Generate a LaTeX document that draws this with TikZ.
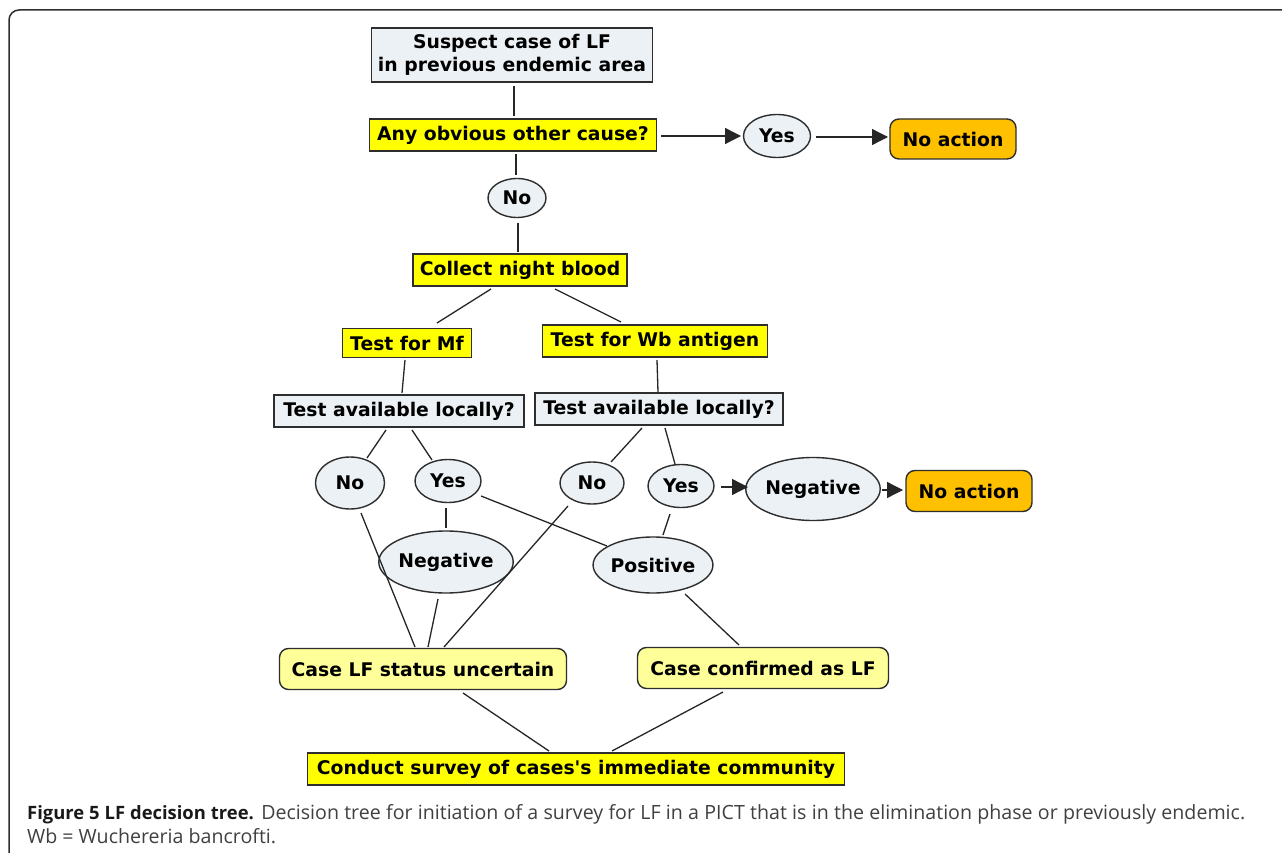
\documentclass[tikz,border=0pt]{standalone}
\usepackage{fontspec}
\usetikzlibrary{arrows.meta,shapes.geometric}
\newfontfamily\boxfont{DejaVu Sans}
\newfontfamily\capfont{Open Sans}
\definecolor{boxgray}{HTML}{EBF1F4}
\definecolor{yel}{HTML}{FFFF00}
\definecolor{orng}{HTML}{FFC000}
\definecolor{paleyel}{HTML}{FFFF99}
\definecolor{edge}{HTML}{2E2E2E}
\definecolor{capgray}{HTML}{404040}
\begin{document}
\begin{tikzpicture}[x=1pt,y=-1pt,
  base/.style={draw=edge, line width=1.4pt, inner sep=0pt, align=center, text=black,
    font=\boxfont\bfseries\fontsize{18.8}{23}\selectfont},
  graybox/.style={base, rectangle, fill=boxgray},
  yelbox/.style={base, rectangle, fill=yel},
  oval/.style={base, ellipse, fill=boxgray},
  actbox/.style={base, rectangle, rounded corners=9pt, fill=orng},
  resbox/.style={base, rectangle, rounded corners=9pt, fill=paleyel},
  link/.style={draw=black!85, line width=1.3pt},
  arr/.style={link, -{Triangle[length=16pt,width=16pt]}},
  captext/.style={anchor=base west, inner sep=0pt, text=capgray, font=\capfont\fontsize{19.6}{24}\selectfont}
]
\useasboundingbox (0,0) rectangle (1282,853);
\fill[white] (0,0) rectangle (1282,853);
\draw[edge, line width=1.5pt, rounded corners=10pt] (9,860) -- (9,10) -- (1290,10);

% nodes
\node[graybox, minimum width=281, minimum height=54] (susp) at (512,55) {Suspect case of LF\\in previous endemic area};
\node[yelbox, minimum width=287, minimum height=32] (any) at (513,135) {Any obvious other cause?};
\node[oval, minimum width=67, minimum height=43] (yes1) at (777,136) {Yes};
\node[actbox, minimum width=126, minimum height=40] (noact1) at (953,139) {No action};
\node[oval, minimum width=58, minimum height=39] (no1) at (517,198) {No};
\node[yelbox, minimum width=214, minimum height=32] (collect) at (520,270) {Collect night blood};
\node[yelbox, minimum width=129, minimum height=29] (mf) at (407,343) {Test for Mf};
\node[yelbox, minimum width=225, minimum height=32] (wb) at (655,341) {Test for Wb antigen};
\node[graybox, minimum width=250, minimum height=32] (tal1) at (399,411) {Test available locally?};
\node[graybox, minimum width=248, minimum height=32] (tal2) at (659,409) {Test available locally?};
\node[oval, minimum width=69, minimum height=52] (no2) at (350,483) {No};
\node[oval, minimum width=66, minimum height=43] (yes2) at (448,481) {Yes};
\node[oval, minimum width=64, minimum height=42] (no3) at (592,483) {No};
\node[oval, minimum width=66, minimum height=43] (yes3) at (681,486) {Yes};
\node[oval, minimum width=124, minimum height=63] (neg2) at (813,489) {Negative};
\node[actbox, minimum width=126, minimum height=41] (noact2) at (969,491) {No action};
\node[oval, minimum width=124, minimum height=62] (neg1) at (446,562) {Negative};
\node[oval, minimum width=114, minimum height=56] (pos) at (653,565) {Positive};
\node[resbox, minimum width=287, minimum height=41] (caseU) at (423,669) {Case LF status uncertain};
\node[resbox, minimum width=251, minimum height=41] (caseC) at (763,668) {Case confirmed as LF};
\node[yelbox, minimum width=537, minimum height=32] (conduct) at (576,769) {Conduct survey of cases's immediate community};

% connectors
\draw[link] ([shift={(2,31)}]susp.center) -- ([shift={(1,-19)}]any.center);
\draw[arr] ([shift={(148,1)}]any.center) -- ([shift={(-36,0)}]yes1.center);
\draw[arr] ([shift={(39,1)}]yes1.center) -- ([shift={(-65,-2)}]noact1.center);
\draw[link] ([shift={(3,19)}]any.center) -- ([shift={(-1,-23)}]no1.center);
\draw[link] ([shift={(1,25)}]no1.center) -- ([shift={(-2,-18)}]collect.center);
\draw[link] ([shift={(-29,19)}]collect.center) -- ([shift={(30,-20)}]mf.center);
\draw[link] ([shift={(35,19)}]collect.center) -- ([shift={(-34,-19)}]wb.center);
\draw[link] ([shift={(-2,17)}]mf.center) -- ([shift={(3,-18)}]tal1.center);
\draw[link] ([shift={(2,19)}]wb.center) -- ([shift={(-1,-17)}]tal2.center);
\draw[link] ([shift={(-13,19)}]tal1.center) -- ([shift={(17,-25)}]no2.center);
\draw[link] ([shift={(13,19)}]tal1.center) -- ([shift={(-16,-21)}]yes2.center);
\draw[link] ([shift={(-17,19)}]tal2.center) -- ([shift={(19,-21)}]no3.center);
\draw[link] ([shift={(6,19)}]tal2.center) -- ([shift={(-6,-22)}]yes3.center);
\draw[arr] ([shift={(40,1)}]yes3.center) -- ([shift={(-65,-2)}]neg2.center);
\draw[arr] ([shift={(69,1)}]neg2.center) -- ([shift={(-66,-1)}]noact2.center);
\draw[link] ([shift={(11,30)}]no2.center) -- ([shift={(-8,-22)}]caseU.center);
\draw[link] ([shift={(-2,27)}]yes2.center) -- ([shift={(0,-34)}]neg1.center);
\draw[link] ([shift={(33,15)}]yes2.center) -- ([shift={(-46,-19)}]pos.center);
\draw[link] ([shift={(-8,37)}]neg1.center) -- ([shift={(5,-22)}]caseU.center);
\draw[link] ([shift={(-24,23)}]no3.center) -- ([shift={(21,-22)}]caseU.center);
\draw[link] ([shift={(-11,28)}]yes3.center) -- ([shift={(10,-30)}]pos.center);
\draw[link] ([shift={(32,29)}]pos.center) -- ([shift={(-24,-23)}]caseC.center);
\draw[link] ([shift={(40,24)}]caseU.center) -- ([shift={(-27,-18)}]conduct.center);
\draw[link] ([shift={(-40,24)}]caseC.center) -- ([shift={(36,-18)}]conduct.center);

% caption
\node[captext] (cap1) at (27,819)
  {\hbox to 1218pt{\textcolor{black!90}{\fontsize{18.4}{24}\selectfont\bfseries Figure 5 LF decision tree.} Decision tree for initiation of a survey for LF in a PICT that is in the elimination phase or previously endemic.}};
\node[captext] (cap2) at (27,843)
  {Wb = Wuchereria bancrofti.};
\end{tikzpicture}
\end{document}
